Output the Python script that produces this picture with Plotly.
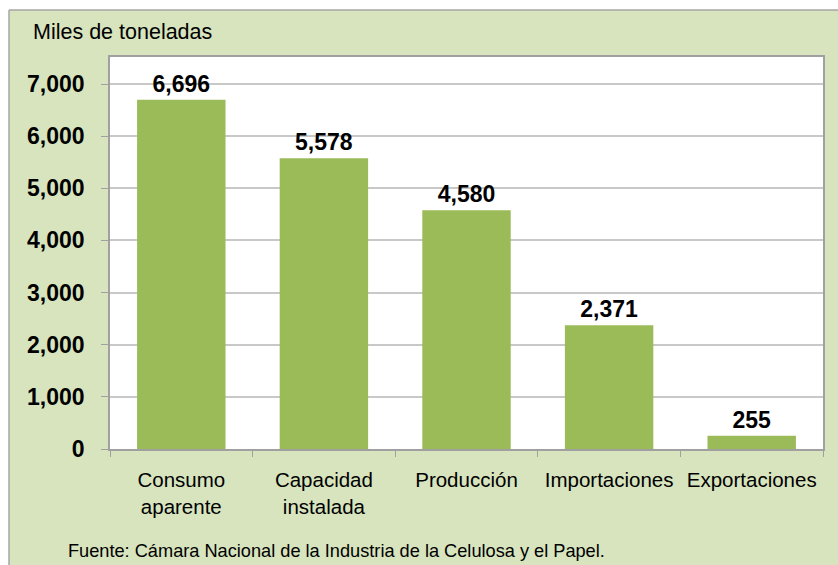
import plotly.graph_objects as go

categories = ["Consumo<br>aparente", "Capacidad<br>instalada", "Producción", "Importaciones", "Exportaciones"]
values = [6696, 5578, 4580, 2371, 255]
y_ticks = [0, 1000, 2000, 3000, 4000, 5000, 6000, 7000]
y_tick_labels = ["0", "1,000", "2,000", "3,000", "4,000", "5,000", "6,000", "7,000"]

W, H = 838, 565
L, R, T, B = 110, 15, 57, 116
pw, ph = W - L - R, H - T - B

def px_x(x):
    return (x - L) / pw

def px_y(y):
    return (H - B - y) / ph

FONT = "Liberation Sans, Arial, sans-serif"
GREEN_BG = "#d7e4bd"
BORDER = "#a6a6a6"

fig = go.Figure()
fig.add_trace(go.Bar(
    x=categories, y=values,
    marker=dict(color="#9bbb59", line=dict(width=0)),
    text=["<b>{:,}</b>".format(v) for v in values],
    textposition="outside",
    textfont=dict(size=23, color="black", family=FONT),
    cliponaxis=False,
    width=0.62,
))

shapes = [
    dict(type="rect", xref="paper", yref="paper",
         x0=px_x(-5), x1=px_x(9), y0=px_y(600), y1=px_y(-5),
         fillcolor="white", line=dict(width=0), layer="below"),
    dict(type="rect", xref="paper", yref="paper",
         x0=px_x(-5), x1=px_x(850), y0=px_y(10), y1=px_y(-5),
         fillcolor="white", line=dict(width=0), layer="below"),
    dict(type="line", xref="paper", yref="paper",
         x0=px_x(9), x1=px_x(850), y0=px_y(10), y1=px_y(10),
         line=dict(color=BORDER, width=1.5), layer="below"),
    dict(type="line", xref="paper", yref="paper",
         x0=px_x(9), x1=px_x(9), y0=px_y(10), y1=px_y(600),
         line=dict(color=BORDER, width=1.5), layer="below"),
]

fig.update_layout(
    width=W, height=H,
    margin=dict(l=L, r=R, t=T, b=B),
    paper_bgcolor=GREEN_BG,
    plot_bgcolor="white",
    font=dict(family=FONT, color="black"),
    showlegend=False,
    shapes=shapes,
    annotations=[
        dict(text="Miles de toneladas", xref="paper", yref="paper",
             x=px_x(31), y=px_y(32), xanchor="left", yanchor="middle",
             showarrow=False, font=dict(size=21.5, color="black")),
        dict(text="Fuente: Cámara Nacional de la Industria de la Celulosa y el Papel.",
             xref="paper", yref="paper",
             x=px_x(66), y=px_y(551), xanchor="left", yanchor="middle",
             showarrow=False, font=dict(size=18.2, color="black")),
    ],
)

fig.update_xaxes(
    showline=True, linecolor="#a0a0a0", linewidth=1.5, mirror=True,
    ticks="outside", tickson="boundaries", ticklen=6, tickcolor="#a0a0a0",
    tickfont=dict(size=20.5, color="black"),
    ticklabelstandoff=12,
    showgrid=False,
)
fig.update_yaxes(
    range=[0, 7518],
    tickvals=y_ticks, ticktext=y_tick_labels,
    showline=True, linecolor="#a0a0a0", linewidth=1.5, mirror=True,
    ticks="outside", ticklen=7, tickcolor="#a0a0a0",
    tickfont=dict(size=23, color="black", weight="bold"),
    ticklabelstandoff=12,
    showgrid=True, gridcolor="#c8c8c8", gridwidth=1.5,
    zeroline=False,
)

fig.write_html("out.html", config={"displayModeBar": False},
               post_script="document.body.style.margin='0';document.body.style.overflow='hidden';")
